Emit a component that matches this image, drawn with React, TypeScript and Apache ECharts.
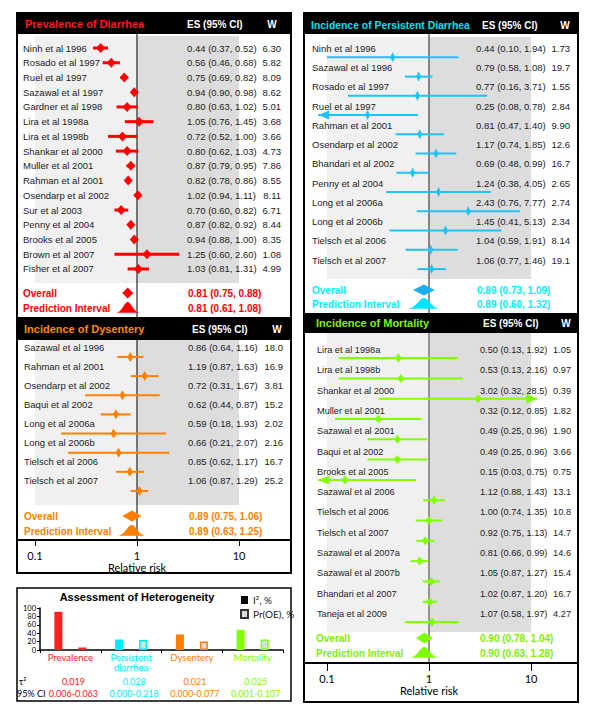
import React, { useEffect, useRef } from "react";
import * as echarts from "echarts";

// ---------------- DATA ----------------
const prevStudies = ["Ninh et al 1996", "Rosado et al 1997", "Ruel et al 1997", "Sazawal et al 1997", "Gardner et al 1998", "Lira et al 1998a", "Lira et al 1998b", "Shankar et al 2000", "Muller et al 2001", "Rahman et al 2001", "Osendarp et al 2002", "Sur et al 2003", "Penny et al 2004", "Brooks et al 2005", "Brown et al 2007", "Fisher et al 2007"];
const prevES = [0.44, 0.56, 0.75, 0.94, 0.80, 1.05, 0.72, 0.80, 0.87, 0.82, 1.02, 0.70, 0.87, 0.94, 1.25, 1.03];
const prevLo = [0.37, 0.46, 0.69, 0.90, 0.63, 0.76, 0.52, 0.62, 0.79, 0.78, 0.94, 0.60, 0.82, 0.88, 0.60, 0.81];
const prevHi = [0.52, 0.68, 0.82, 0.98, 1.02, 1.45, 1.00, 1.03, 0.95, 0.86, 1.11, 0.82, 0.92, 1.00, 2.60, 1.31];
const prevW = [6.30, 5.82, 8.09, 8.62, 5.01, 3.68, 3.66, 4.73, 7.86, 8.55, 8.11, 6.71, 8.44, 8.35, 1.08, 4.99];
const prevOverall = [0.81, 0.75, 0.88];
const prevPI = [0.81, 0.61, 1.08];

const dysStudies = ["Sazawal et al 1996", "Rahman et al 2001", "Osendarp et al 2002", "Baqui et al 2002", "Long et al 2006a", "Long et al 2006b", "Tielsch et al 2006", "Tielsch et al 2007"];
const dysES = [0.86, 1.19, 0.72, 0.62, 0.59, 0.66, 0.85, 1.06];
const dysLo = [0.64, 0.87, 0.31, 0.44, 0.18, 0.21, 0.62, 0.87];
const dysHi = [1.16, 1.63, 1.67, 0.87, 1.93, 2.07, 1.17, 1.29];
const dysW = [18.0, 16.9, 3.81, 15.2, 2.02, 2.16, 16.7, 25.2];
const dysOverall = [0.89, 0.75, 1.06];
const dysPI = [0.89, 0.63, 1.25];

const perStudies = ["Ninh et al 1996", "Sazawal et al 1996", "Rosado et al 1997", "Ruel et al 1997", "Rahman et al 2001", "Osendarp et al 2002", "Bhandari et al 2002", "Penny et al 2004", "Long et al 2006a", "Long et al 2006b", "Tielsch et al 2006", "Tielsch et al 2007"];
const perES = [0.44, 0.79, 0.77, 0.25, 0.81, 1.17, 0.69, 1.24, 2.43, 1.45, 1.04, 1.06];
const perLo = [0.10, 0.58, 0.16, 0.08, 0.47, 0.74, 0.48, 0.38, 0.76, 0.41, 0.59, 0.77];
const perHi = [1.94, 1.08, 3.71, 0.78, 1.40, 1.85, 0.99, 4.05, 7.77, 5.13, 1.91, 1.46];
const perW = [1.73, 19.7, 1.55, 2.84, 9.90, 12.6, 16.7, 2.65, 2.74, 2.34, 8.14, 19.1];
const perOverall = [0.89, 0.73, 1.09];
const perPI = [0.89, 0.60, 1.32];

const morStudies = ["Lira et al 1998a", "Lira et al 1998b", "Shankar et al 2000", "Muller et al 2001", "Sazawal et al 2001", "Baqui et al 2002", "Brooks et al 2005", "Sazawal et al 2006", "Tielsch et al 2006", "Tielsch et al 2007", "Sazawal et al 2007a", "Sazawal et al 2007b", "Bhandari et al 2007", "Taneja et al 2009"];
const morES = [0.50, 0.53, 3.02, 0.32, 0.49, 0.49, 0.15, 1.12, 1.00, 0.92, 0.81, 1.05, 1.02, 1.07];
const morLo = [0.13, 0.13, 0.32, 0.12, 0.25, 0.25, 0.03, 0.88, 0.74, 0.75, 0.66, 0.87, 0.87, 0.58];
const morHi = [1.92, 2.16, 28.5, 0.85, 0.96, 0.96, 0.75, 1.43, 1.35, 1.13, 0.99, 1.27, 1.20, 1.97];
const morW = [1.05, 0.97, 0.39, 1.82, 1.90, 3.66, 0.75, 13.1, 10.8, 14.7, 14.6, 15.4, 16.7, 4.27];
const morOverall = [0.90, 0.78, 1.04];
const morPI = [0.90, 0.63, 1.28];

const axisTicks = [0.1, 1, 10];

const hetCats = ["Prevalence", "Persistent\ndiarrhea", "Dysentery", "Mortality"];
const hetI2 = [91, 25, 37, 48];
const hetPrOE = [6, 24, 20, 25];
const hetTau2 = [0.019, 0.028, 0.021, 0.025];
const hetTauLo = [0.006, 0.0, 0.0, 0.001];
const hetTauHi = [0.063, 0.218, 0.077, 0.107];

// ---------------- STYLE / LAYOUT ----------------
const FA = "'Liberation Sans', Arial, Helvetica, sans-serif";
const FN = "'Liberation Sans Narrow', 'Arial Narrow', 'Liberation Sans', sans-serif";
const FM = "Lato, 'Open Sans', sans-serif";
const ARROW_MIN = 0.082;
const ARROW_MAX = 11.5;
const DECADES_W = 204;

const hetColors = ["#ff2020", "#00eaff", "#ff8000", "#80ff00"];

const cfgPrev: any = {
  title: "Prevalence of Diarrhea", titleFs: 11, color: "#ff0000", titleColor: "#ff1a1a", sumColor: "#ff0000", diaColor: "#ff0000", piColor: "#ff0000",
  x0: 17, x1: 291, headTop: 13, bodyTop: 34, bodyBot: 317, gridLeft: 35,
  rowY0: 48, step: 14.73, mOff: 0, greyTop: 36, greyBot: 283, overallY: 293, predY: 308,
  nameX: 23, esX: 187, wX: 281, titleX: 25, titleY: 24, esHeadX: 187, wHeadX: 272,
  lw: 3, hw: 4.5, hh: 5, font: FA, fs: 9.5, sumX: 23, sumValX: 188, vline: "#000", vlw: 1,
};
const cfgDys: any = {
  title: "Incidence of Dysentery", titleFs: 11, color: "#ff8000", titleColor: "#ff8c00", sumColor: "#ff8000", diaColor: "#ff8000", piColor: "#ff8000",
  x0: 17, x1: 291, headTop: 317, bodyTop: 340, bodyBot: 540, gridLeft: 35,
  rowY0: 347, step: 19.14, mOff: 0.52, greyTop: 340, greyBot: 505, overallY: 516, predY: 531,
  nameX: 24, esX: 188, wX: 283, titleX: 24, titleY: 329, esHeadX: 192, wHeadX: 277,
  lw: 2, hw: 3, hh: 5, font: FA, fs: 9.5, sumX: 24, sumValX: 189, vline: "#000", vlw: 1,
};
const cfgPer: any = {
  title: "Incidence of Persistent Diarrhea", titleFs: 10.4, color: "#1ec3f8", titleColor: "#00e0ee", sumColor: "#00eeff", diaColor: "#1aaef0", piColor: "#00e5ff",
  x0: 304, x1: 578, headTop: 13, bodyTop: 34, bodyBot: 313, gridLeft: 327,
  rowY0: 48.3, step: 19.25, mOff: 0.47, greyTop: 37, greyBot: 279, overallY: 290, predY: 304,
  nameX: 312, esX: 476, wX: 570, titleX: 311, titleY: 25, esHeadX: 482, wHeadX: 565,
  lw: 2, hw: 2.5, hh: 5, font: FA, fs: 9.5, sumX: 312, sumValX: 477, vline: "#444", vlw: 1.2,
};
const cfgMor: any = {
  title: "Incidence of Mortality", titleFs: 11, color: "#80ff00", titleColor: "#80f000", sumColor: "#80f000", diaColor: "#80ff00", piColor: "#80ff00",
  x0: 304, x1: 578, headTop: 313, bodyTop: 333, bodyBot: 663, gridLeft: 327,
  rowY0: 350, step: 20.3, mOff: 0.4, greyTop: 333, greyBot: 632, overallY: 638, predY: 653,
  nameX: 317, esX: 480, wX: 571, titleX: 316, titleY: 323, esHeadX: 483, wHeadX: 566,
  lw: 2, hw: 3.5, hh: 4.5, font: FN, fs: 9.2, sumX: 316, sumValX: 480, vline: "#777", vlw: 1.5,
};

const panels = [
  { cfg: cfgPrev, names: prevStudies, es: prevES, lo: prevLo, hi: prevHi, w: prevW, overall: prevOverall, pi: prevPI },
  { cfg: cfgDys, names: dysStudies, es: dysES, lo: dysLo, hi: dysHi, w: dysW, overall: dysOverall, pi: dysPI },
  { cfg: cfgPer, names: perStudies, es: perES, lo: perLo, hi: perHi, w: perW, overall: perOverall, pi: perPI },
  { cfg: cfgMor, names: morStudies, es: morES, lo: morLo, hi: morHi, w: morW, overall: morOverall, pi: morPI },
];

const fmt = (v: number) => (v >= 10 ? v.toFixed(1) : v.toFixed(2));
const fmtW = (v: number) => (v >= 10 ? v.toFixed(1) : v.toFixed(2));
const ciText = (e: number, l: number, h: number) => `${fmt(e)} (${fmt(l)}, ${fmt(h)})`;

function txt(x: number, y: number, text: string, fill: string, font: string, align = "left", z = 0): any {
  const el: any = {
    type: "text", x, y,
    style: { text, fill, font, align, verticalAlign: "middle", textAlign: align, textVerticalAlign: "middle" },
  };
  if (z) el.z = z;
  return el;
}

const toRow = (cfg: any, py: number) => (py - cfg.rowY0) / cfg.step;

function buildOption(): any {
  const grid: any[] = [];
  const xAxis: any[] = [];
  const yAxis: any[] = [];
  const series: any[] = [];
  const graphic: any[] = [];

  panels.forEach((p, k) => {
    const c = p.cfg;
    grid.push({ left: c.gridLeft, top: c.bodyTop, width: DECADES_W, height: c.bodyBot - c.bodyTop });
    xAxis.push({ type: "log", logBase: 10, gridIndex: k, min: 0.1, max: 10, show: false });
    yAxis.push({ type: "value", gridIndex: k, inverse: true, min: toRow(c, c.bodyTop), max: toRow(c, c.bodyBot), show: false });

    const gT = toRow(c, c.greyTop);
    const gB = toRow(c, c.greyBot);
    // background shading + vertical line at 1
    series.push({
      type: "custom", xAxisIndex: k, yAxisIndex: k, z: 1, silent: true, clip: false,
      data: [[0.1, 1, gT, gB], [1, 10, gT, gB]],
      encode: { x: [0, 1], y: [2, 3] },
      renderItem: (params: any, api: any) => {
        const a = api.coord([api.value(0), api.value(2)]);
        const b = api.coord([api.value(1), api.value(3)]);
        const children: any[] = [
          { type: "rect", shape: { x: a[0], y: a[1], width: b[0] - a[0], height: b[1] - a[1] }, style: { fill: params.dataIndex === 0 ? "#f0f0f0" : "#dddddd" } },
        ];
        if (params.dataIndex === 1) {
          const cs = params.coordSys;
          children.push({ type: "line", shape: { x1: a[0], y1: cs.y, x2: a[0], y2: cs.y + cs.height }, style: { stroke: c.vline, lineWidth: c.vlw } });
        }
        return { type: "group", children };
      },
    });

    // studies
    series.push({
      type: "custom", xAxisIndex: k, yAxisIndex: k, z: 5, silent: true, clip: false,
      data: p.es.map((v: number, i: number) => [v, p.lo[i], p.hi[i], i]),
      encode: { x: [0, 1, 2], y: 3 },
      renderItem: (params: any, api: any) => {
        const i = params.dataIndex;
        const e = api.value(0), l = api.value(1), h = api.value(2), r = api.value(3);
        const yT = api.coord([1, r])[1];
        const ym = r + c.mOff;
        const ce = api.coord([e, ym]);
        const a = api.coord([Math.max(l, ARROW_MIN), ym]);
        const b = api.coord([Math.min(h, ARROW_MAX), ym]);
        const f = `${c.fs}px ${c.font}`;
        const children: any[] = [
          txt(c.nameX, yT, p.names[i], "#222", f),
          txt(c.esX, yT, ciText(e, l, h), "#222", f),
          txt(c.wX, yT, fmtW(p.w[i]), "#222", f, "right"),
          { type: "line", shape: { x1: a[0], y1: a[1], x2: b[0], y2: b[1] }, style: { stroke: c.color, lineWidth: c.lw } },
          { type: "polygon", shape: { points: [[ce[0] - c.hw, ce[1]], [ce[0], ce[1] - c.hh], [ce[0] + c.hw, ce[1]], [ce[0], ce[1] + c.hh]] }, style: { fill: c.color } },
        ];
        if (l < 0.1) {
          children.push({ type: "polygon", shape: { points: [[a[0], a[1]], [a[0] + 11, a[1] - 4.5], [a[0] + 11, a[1] + 4.5]] }, style: { fill: c.color } });
        }
        if (h > 10) {
          children.push({ type: "polygon", shape: { points: [[b[0], b[1]], [b[0] - 11, b[1] - 5], [b[0] - 11, b[1] + 5]] }, style: { fill: c.color } });
        }
        return { type: "group", children };
      },
    });

    // summary rows
    const summaryLabels = ["Overall", "Prediction Interval"];
    series.push({
      type: "custom", xAxisIndex: k, yAxisIndex: k, z: 5, silent: true, clip: false,
      data: [
        [p.overall[0], p.overall[1], p.overall[2], toRow(c, c.overallY)],
        [p.pi[0], p.pi[1], p.pi[2], toRow(c, c.predY)],
      ],
      encode: { x: [0, 1, 2], y: 3 },
      renderItem: (params: any, api: any) => {
        const i = params.dataIndex;
        const e = api.value(0), l = api.value(1), h = api.value(2), r = api.value(3);
        const ce = api.coord([e, r]);
        const a = api.coord([l, r]);
        const b = api.coord([h, r]);
        const f = `bold 10px ${FA}`;
        const children: any[] = [
          txt(c.sumX, ce[1], summaryLabels[i], c.sumColor, f),
          txt(c.sumValX, ce[1], ciText(e, l, h), c.sumColor, f),
        ];
        if (i === 0) {
          const left = Math.min(a[0] - 2, ce[0] - 5);
          const right = Math.max(b[0] + 2, ce[0] + 5);
          children.push({ type: "polygon", shape: { points: [[left, ce[1]], [ce[0], ce[1] - 5.5], [right, ce[1]], [ce[0], ce[1] + 5.5]] }, style: { fill: c.diaColor } });
        } else {
          const base = ce[1] + 5;
          const pts: number[][] = [];
          const n = 24;
          for (let t = 0; t <= n; t++) {
            const u = t / n;
            const x = a[0] + (b[0] - a[0]) * u;
            const y = base - 11 * Math.exp(-((u - 0.5) * (u - 0.5)) / (2 * 0.17 * 0.17));
            pts.push([x, y]);
          }
          children.push({ type: "polygon", shape: { points: pts }, style: { fill: c.piColor } });
        }
        return { type: "group", children };
      },
    });

    // header band & titles
    graphic.push({ type: "rect", z: 50, shape: { x: c.x0, y: c.headTop, width: c.x1 - c.x0, height: c.bodyTop - c.headTop }, style: { fill: "#000" } });
    graphic.push(txt(c.titleX, c.titleY, c.title, c.titleColor, `bold ${c.titleFs}px ${FA}`, "left", 60));
    graphic.push(txt(c.esHeadX, c.titleY, "ES (95% CI)", "#fff", `bold 10px ${FA}`, "left", 60));
    graphic.push(txt(c.wHeadX, c.titleY, "W", "#fff", `bold 10px ${FA}`, "center", 60));
  });

  // relative-risk axis boxes
  const axisBoxes = [
    { left: 35, top: 539, tick: 6, gap: 21 },
    { left: 327, top: 662, tick: 8, gap: 22 },
  ];
  axisBoxes.forEach((ab, j) => {
    const gi = 4 + j;
    grid.push({ left: ab.left, top: ab.top, width: DECADES_W, height: 1 });
    xAxis.push({
      type: "log", logBase: 10, gridIndex: gi, min: axisTicks[0], max: axisTicks[axisTicks.length - 1], position: "bottom",
      axisLine: { show: false },
      axisTick: { show: true, length: ab.tick, lineStyle: { color: "#000", width: 1 } },
      minorTick: { show: false }, splitLine: { show: false },
      axisLabel: { fontFamily: FM, fontSize: 11, color: "#000", margin: 10, formatter: (v: number) => String(v) },
      name: "Relative risk", nameLocation: "middle", nameGap: ab.gap,
      nameTextStyle: { fontFamily: FM, fontSize: 11, color: "#000" },
    });
    yAxis.push({ type: "value", gridIndex: gi, show: false });
  });

  // heterogeneity bar chart
  grid.push({ left: 40, top: 608, width: 243, height: 42 });
  xAxis.push({
    type: "category", gridIndex: 6, data: hetCats,
    axisLine: { show: true, lineStyle: { color: "#000", width: 1.5 } },
    axisTick: { show: true, length: 3, lineStyle: { color: "#000" } },
    axisLabel: { interval: 0, fontFamily: FM, fontSize: 9.5, lineHeight: 9.5, margin: 3, color: (_v: any, idx: number) => hetColors[idx] },
  });
  yAxis.push({
    type: "value", gridIndex: 6, min: 0, max: 100, interval: 20,
    axisLine: { show: true, lineStyle: { color: "#000", width: 1.5 } },
    axisTick: { show: true, length: 3, lineStyle: { color: "#000" } },
    axisLabel: { fontFamily: FM, fontSize: 7.5, lineHeight: 7.5, margin: 4, color: "#000", hideOverlap: false },
    splitLine: { show: false },
  });
  series.push({
    type: "bar", name: "I², %", xAxisIndex: 6, yAxisIndex: 6, barWidth: 8, barGap: "200%", silent: true,
    itemStyle: { color: "#000" },
    data: hetI2.map((v, i) => ({ value: v, itemStyle: { color: hetColors[i] } })),
  });
  series.push({
    type: "bar", name: "Pr(OE), %", xAxisIndex: 6, yAxisIndex: 6, barWidth: 8, silent: true,
    itemStyle: { color: "#dcdcdc", borderColor: "#333", borderWidth: 1 },
    data: hetPrOE.map((v, i) => ({ value: v, itemStyle: { color: "#dcdcdc", borderColor: hetColors[i], borderWidth: 1.5 } })),
  });

  // heterogeneity text rows
  const catCenter = (i: number) => 40 + (i + 0.5) * (243 / hetCats.length);
  const hf = `9px ${FM}`;
  graphic.push(txt(137, 597, "Assessment of Heterogeneity", "#000", `bold 11px ${FA}`, "center", 60));
  graphic.push(txt(19, 681, "τ²", "#000", hf, "left", 60));
  graphic.push(txt(17, 693, "95% CI", "#000", hf, "left", 60));
  hetTau2.forEach((t, i) => {
    graphic.push(txt(catCenter(i) + 3, 681, t.toFixed(3), hetColors[i], hf, "center", 60));
    graphic.push(txt(catCenter(i) + 3, 693, `${hetTauLo[i].toFixed(3)}-${hetTauHi[i].toFixed(3)}`, hetColors[i], hf, "center", 60));
  });

  // borders
  graphic.push({ type: "rect", z: 70, shape: { x: 17, y: 13, width: 274, height: 560 }, style: { fill: "none", stroke: "#000", lineWidth: 2 } });
  graphic.push({ type: "line", z: 70, shape: { x1: 17, y1: 540, x2: 291, y2: 540 }, style: { stroke: "#000", lineWidth: 2 } });
  graphic.push({ type: "rect", z: 70, shape: { x: 304, y: 13, width: 274, height: 689 }, style: { fill: "none", stroke: "#000", lineWidth: 2 } });
  graphic.push({ type: "line", z: 70, shape: { x1: 304, y1: 663, x2: 578, y2: 663 }, style: { stroke: "#000", lineWidth: 2 } });
  graphic.push({ type: "rect", z: 70, shape: { x: 17, y: 588, width: 274, height: 113 }, style: { fill: "none", stroke: "#000", lineWidth: 1.5 } });

  return {
    animation: false,
    backgroundColor: "#fff",
    grid, xAxis, yAxis, series, graphic,
    legend: {
      data: ["I², %", "Pr(OE), %"], orient: "vertical", left: 240, top: 595,
      itemWidth: 7, itemHeight: 8, itemGap: 4, padding: 0, icon: "rect", selectedMode: false,
      textStyle: { fontFamily: FM, fontSize: 10, color: "#222" },
    },
  };
}

export default function App() {
  const ref = useRef<HTMLDivElement>(null);
  useEffect(() => {
    if (!ref.current) return;
    const chart = echarts.init(ref.current, null, { renderer: "svg" });
    chart.setOption(buildOption());
    return () => chart.dispose();
  }, []);
  return <div ref={ref} style={{ position: "fixed", left: 0, top: 0, width: 600, height: 714, background: "#fff" }} />;
}
